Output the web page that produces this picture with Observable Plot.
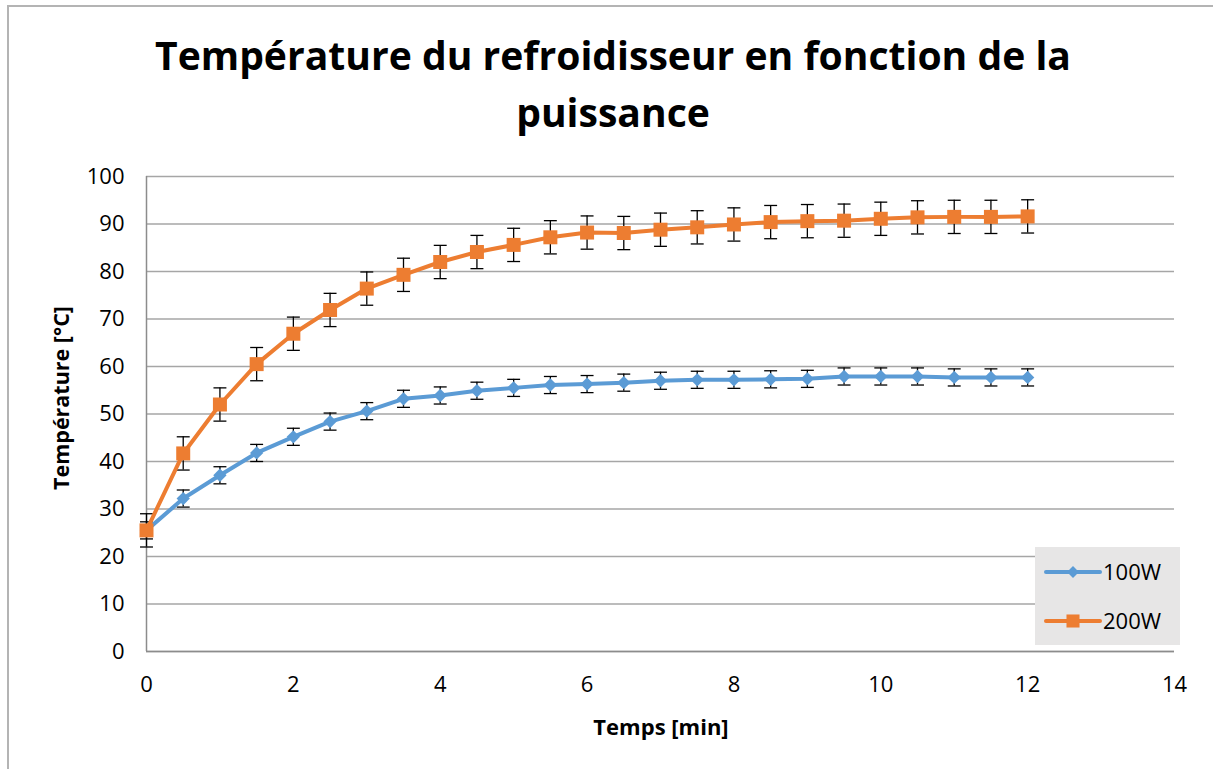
<!DOCTYPE html>
<html><head><meta charset="utf-8">
<script src="https://cdn.jsdelivr.net/npm/d3@7"></script>
<script src="https://cdn.jsdelivr.net/npm/@observablehq/plot@0.6"></script>
<style>
body{margin:0;background:#fff;font-family:"Open Sans",sans-serif;width:1213px;height:769px;overflow:hidden;position:relative;color:#000}
#frame{position:absolute;left:7px;top:5px;width:1400px;height:1000px;border-left:2px solid #b4b4b4;border-top:2px solid #b4b4b4;box-sizing:border-box}
#title{position:absolute;left:0;width:1226px;top:26px;text-align:center;font-weight:700;line-height:57px;white-space:nowrap}
#chart{position:absolute;left:0;top:160px}
#ytitle{position:absolute;left:60px;top:398px;transform:translate(-50%,-50%) rotate(-90deg);font-weight:700;font-size:21.5px;white-space:nowrap}
#xtitle{position:absolute;left:661px;top:726px;transform:translate(-50%,-50%);font-weight:700;font-size:22px;white-space:nowrap}
#legend{position:absolute;left:1035px;top:547px;width:145px;height:98px;background:#e7e6e6}
</style></head>
<body>
<div id="frame"></div>
<div id="title"><span id="t1">Température du refroidisseur en fonction de la</span><br><span>puissance</span></div>
<div id="chart"></div>
<div id="ytitle">Température [°C]</div>
<div id="xtitle">Temps [min]</div>
<div id="legend"></div>
<script>
// ---- data ----
const times = [0, 0.5, 1, 1.5, 2, 2.5, 3, 3.5, 4, 4.5, 5, 5.5, 6, 6.5, 7, 7.5, 8, 8.5, 9, 9.5, 10, 10.5, 11, 11.5, 12];
const temp100 = [25.5, 32.2, 37.1, 41.8, 45.2, 48.4, 50.6, 53.2, 53.9, 54.9, 55.5, 56.1, 56.3, 56.6, 57.0, 57.2, 57.2, 57.3, 57.4, 57.9, 57.9, 57.9, 57.7, 57.7, 57.7];
const temp200 = [25.5, 41.7, 52.0, 60.5, 66.9, 71.9, 76.4, 79.3, 82.0, 84.1, 85.6, 87.2, 88.2, 88.1, 88.8, 89.3, 89.9, 90.4, 90.6, 90.7, 91.1, 91.4, 91.5, 91.5, 91.6];
const err100 = 1.8;
const err200 = 3.5;
const seriesNames = ["100W", "200W"];
const seriesColors = ["#5b9bd5", "#ed7d31"];
const seriesSymbols = ["diamond2", "square"];
const xTicks = [0, 2, 4, 6, 8, 10, 12, 14];
const yTicks = [0, 10, 20, 30, 40, 50, 60, 70, 80, 90, 100];

// fit title width
(function(){
  const c = document.createElement("canvas").getContext("2d");
  c.font = "700 40px 'Open Sans'";
  const w = c.measureText(document.getElementById("t1").textContent).width;
  document.getElementById("title").style.fontSize = (40 * 916 / w).toFixed(2) + "px";
})();

function rows(vals, err) {
  return times.map((t, i) => ({t, v: vals[i], lo: vals[i] - err, hi: vals[i] + err}));
}
const series = [rows(temp100, err100), rows(temp200, err200)];

const capSymbol = {draw(ctx, size) { const w = Math.sqrt(size); ctx.moveTo(-w / 2, 0); ctx.lineTo(w / 2, 0); }};

const marks = [
  Plot.ruleY(yTicks, {stroke: "#a6a6a6", strokeWidth: 1.3}),
  Plot.ruleY([0], {stroke: "#8c8c8c", strokeWidth: 1.5}),
  Plot.ruleX([0], {stroke: "#8c8c8c", strokeWidth: 1.5})
];
series.forEach((data, k) => {
  marks.push(
    Plot.ruleX(data, {x: "t", y1: "lo", y2: "hi", stroke: "#000", strokeWidth: 1.3}),
    Plot.dot(data, {x: "t", y: "lo", symbol: capSymbol, r: 7.3, stroke: "#000", strokeWidth: 1.3, fill: "none"}),
    Plot.dot(data, {x: "t", y: "hi", symbol: capSymbol, r: 7.3, stroke: "#000", strokeWidth: 1.3, fill: "none"}),
    Plot.line(data, {x: "t", y: "v", stroke: seriesColors[k], strokeWidth: 4}),
    Plot.dot(data, {x: "t", y: "v", symbol: seriesSymbols[k], r: k === 0 ? 6 : 7.9, fill: seriesColors[k]})
  );
});

const chart = Plot.plot({
  width: 1213,
  height: 600,
  marginLeft: 146,
  marginRight: 39,
  marginTop: 16,
  marginBottom: 109,
  style: {fontFamily: "'Open Sans', sans-serif", fontSize: "22px", color: "#000", background: "transparent", overflow: "visible"},
  x: {domain: [0, 14], ticks: xTicks, tickSize: 0, tickPadding: 25, label: null},
  y: {domain: [0, 100], ticks: yTicks, tickSize: 0, tickPadding: 22, label: null},
  marks
});
document.getElementById("chart").appendChild(chart);

// legend
const lg = d3.select("#legend").append("svg").attr("width", 145).attr("height", 98);
const ys = [25, 74];
seriesNames.forEach((name, k) => {
  const g = lg.append("g").attr("transform", `translate(0,${ys[k]})`);
  g.append("line").attr("x1", 11).attr("x2", 65).attr("y1", 0).attr("y2", 0)
    .attr("stroke", seriesColors[k]).attr("stroke-width", 4).attr("stroke-linecap", "round");
  g.append("path").attr("transform", "translate(38,0)")
    .attr("d", d3.symbol(k === 0 ? d3.symbolDiamond2 : d3.symbolSquare, k === 0 ? 90 : 170)())
    .attr("fill", seriesColors[k]);
  g.append("text").attr("x", 68).attr("y", 0).attr("dy", "0.35em")
    .attr("font-family", "'Open Sans', sans-serif").attr("font-size", 22).text(name);
});
</script>
</body></html>
